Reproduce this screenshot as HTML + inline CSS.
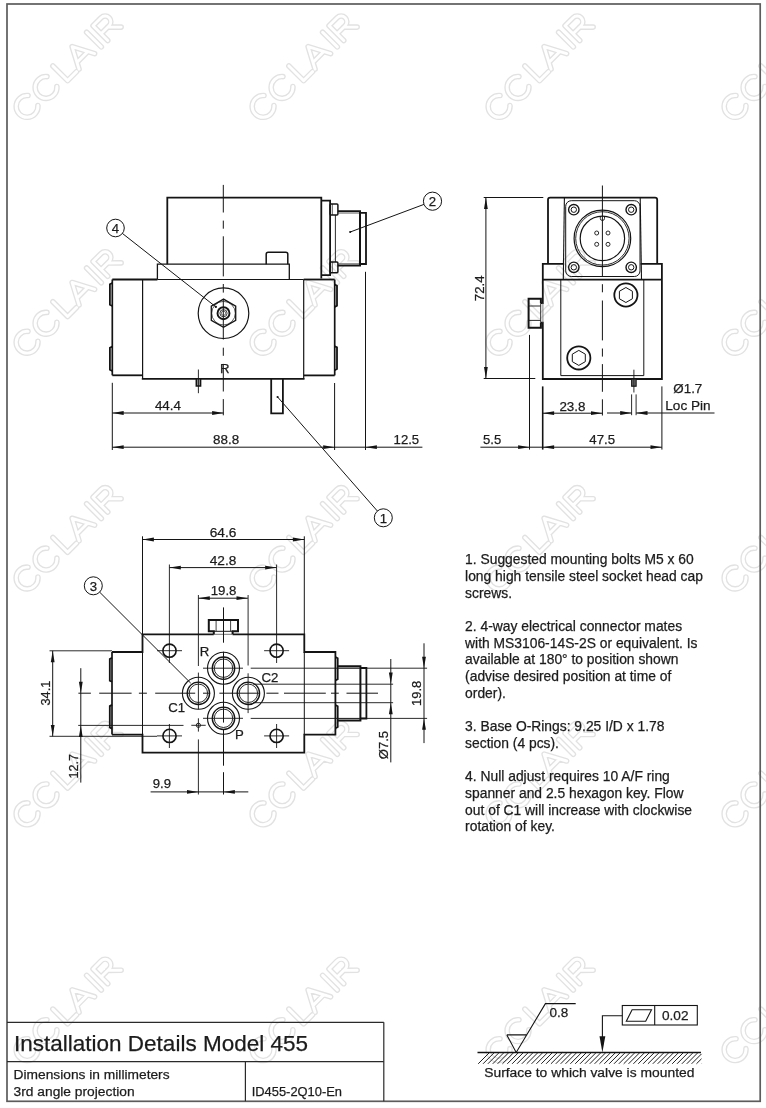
<!DOCTYPE html>
<html><head><meta charset="utf-8"><title>Installation Details Model 455</title>
<style>
html,body{margin:0;padding:0;background:#fff;}
body{width:766px;height:1108px;overflow:hidden;font-family:"Liberation Sans",sans-serif;}
svg{display:block;font-family:"Liberation Sans",sans-serif;filter:grayscale(1);}
</style></head><body>
<svg width="766" height="1108" viewBox="0 0 766 1108">
<rect width="766" height="1108" fill="#ffffff"/>
<g fill="none" stroke-linejoin="round" stroke-linecap="round">
<g stroke="#e2e2e2" stroke-width="5.6"><path transform="translate(66.75 66.75) rotate(-45)" d="M-47.75,-7 A10.9,10.9 0 1 0 -47.75,7 M-20.95,-7 A10.9,10.9 0 1 0 -20.95,7 M-9.2,-10.4 L-9.2,10.4 L3.5,10.4 M7,10.4 L18,-10.4 L29,10.4 M10.6,4.1 L25.4,4.1 M38.5,-10.4 L38.5,10.4 M47.6,10.4 L47.6,-10.4 L59,-10.4 A5.7,5.7 0 0 1 59,1 L47.6,1 M57,1 L66.5,10.4"/><path transform="translate(302.75 66.75) rotate(-45)" d="M-47.75,-7 A10.9,10.9 0 1 0 -47.75,7 M-20.95,-7 A10.9,10.9 0 1 0 -20.95,7 M-9.2,-10.4 L-9.2,10.4 L3.5,10.4 M7,10.4 L18,-10.4 L29,10.4 M10.6,4.1 L25.4,4.1 M38.5,-10.4 L38.5,10.4 M47.6,10.4 L47.6,-10.4 L59,-10.4 A5.7,5.7 0 0 1 59,1 L47.6,1 M57,1 L66.5,10.4"/><path transform="translate(538.75 66.75) rotate(-45)" d="M-47.75,-7 A10.9,10.9 0 1 0 -47.75,7 M-20.95,-7 A10.9,10.9 0 1 0 -20.95,7 M-9.2,-10.4 L-9.2,10.4 L3.5,10.4 M7,10.4 L18,-10.4 L29,10.4 M10.6,4.1 L25.4,4.1 M38.5,-10.4 L38.5,10.4 M47.6,10.4 L47.6,-10.4 L59,-10.4 A5.7,5.7 0 0 1 59,1 L47.6,1 M57,1 L66.5,10.4"/><path transform="translate(774.75 66.75) rotate(-45)" d="M-47.75,-7 A10.9,10.9 0 1 0 -47.75,7 M-20.95,-7 A10.9,10.9 0 1 0 -20.95,7 M-9.2,-10.4 L-9.2,10.4 L3.5,10.4 M7,10.4 L18,-10.4 L29,10.4 M10.6,4.1 L25.4,4.1 M38.5,-10.4 L38.5,10.4 M47.6,10.4 L47.6,-10.4 L59,-10.4 A5.7,5.7 0 0 1 59,1 L47.6,1 M57,1 L66.5,10.4"/><path transform="translate(66.75 302.55) rotate(-45)" d="M-47.75,-7 A10.9,10.9 0 1 0 -47.75,7 M-20.95,-7 A10.9,10.9 0 1 0 -20.95,7 M-9.2,-10.4 L-9.2,10.4 L3.5,10.4 M7,10.4 L18,-10.4 L29,10.4 M10.6,4.1 L25.4,4.1 M38.5,-10.4 L38.5,10.4 M47.6,10.4 L47.6,-10.4 L59,-10.4 A5.7,5.7 0 0 1 59,1 L47.6,1 M57,1 L66.5,10.4"/><path transform="translate(302.75 302.55) rotate(-45)" d="M-47.75,-7 A10.9,10.9 0 1 0 -47.75,7 M-20.95,-7 A10.9,10.9 0 1 0 -20.95,7 M-9.2,-10.4 L-9.2,10.4 L3.5,10.4 M7,10.4 L18,-10.4 L29,10.4 M10.6,4.1 L25.4,4.1 M38.5,-10.4 L38.5,10.4 M47.6,10.4 L47.6,-10.4 L59,-10.4 A5.7,5.7 0 0 1 59,1 L47.6,1 M57,1 L66.5,10.4"/><path transform="translate(538.75 302.55) rotate(-45)" d="M-47.75,-7 A10.9,10.9 0 1 0 -47.75,7 M-20.95,-7 A10.9,10.9 0 1 0 -20.95,7 M-9.2,-10.4 L-9.2,10.4 L3.5,10.4 M7,10.4 L18,-10.4 L29,10.4 M10.6,4.1 L25.4,4.1 M38.5,-10.4 L38.5,10.4 M47.6,10.4 L47.6,-10.4 L59,-10.4 A5.7,5.7 0 0 1 59,1 L47.6,1 M57,1 L66.5,10.4"/><path transform="translate(774.75 302.55) rotate(-45)" d="M-47.75,-7 A10.9,10.9 0 1 0 -47.75,7 M-20.95,-7 A10.9,10.9 0 1 0 -20.95,7 M-9.2,-10.4 L-9.2,10.4 L3.5,10.4 M7,10.4 L18,-10.4 L29,10.4 M10.6,4.1 L25.4,4.1 M38.5,-10.4 L38.5,10.4 M47.6,10.4 L47.6,-10.4 L59,-10.4 A5.7,5.7 0 0 1 59,1 L47.6,1 M57,1 L66.5,10.4"/><path transform="translate(66.75 538.35) rotate(-45)" d="M-47.75,-7 A10.9,10.9 0 1 0 -47.75,7 M-20.95,-7 A10.9,10.9 0 1 0 -20.95,7 M-9.2,-10.4 L-9.2,10.4 L3.5,10.4 M7,10.4 L18,-10.4 L29,10.4 M10.6,4.1 L25.4,4.1 M38.5,-10.4 L38.5,10.4 M47.6,10.4 L47.6,-10.4 L59,-10.4 A5.7,5.7 0 0 1 59,1 L47.6,1 M57,1 L66.5,10.4"/><path transform="translate(302.75 538.35) rotate(-45)" d="M-47.75,-7 A10.9,10.9 0 1 0 -47.75,7 M-20.95,-7 A10.9,10.9 0 1 0 -20.95,7 M-9.2,-10.4 L-9.2,10.4 L3.5,10.4 M7,10.4 L18,-10.4 L29,10.4 M10.6,4.1 L25.4,4.1 M38.5,-10.4 L38.5,10.4 M47.6,10.4 L47.6,-10.4 L59,-10.4 A5.7,5.7 0 0 1 59,1 L47.6,1 M57,1 L66.5,10.4"/><path transform="translate(538.75 538.35) rotate(-45)" d="M-47.75,-7 A10.9,10.9 0 1 0 -47.75,7 M-20.95,-7 A10.9,10.9 0 1 0 -20.95,7 M-9.2,-10.4 L-9.2,10.4 L3.5,10.4 M7,10.4 L18,-10.4 L29,10.4 M10.6,4.1 L25.4,4.1 M38.5,-10.4 L38.5,10.4 M47.6,10.4 L47.6,-10.4 L59,-10.4 A5.7,5.7 0 0 1 59,1 L47.6,1 M57,1 L66.5,10.4"/><path transform="translate(774.75 538.35) rotate(-45)" d="M-47.75,-7 A10.9,10.9 0 1 0 -47.75,7 M-20.95,-7 A10.9,10.9 0 1 0 -20.95,7 M-9.2,-10.4 L-9.2,10.4 L3.5,10.4 M7,10.4 L18,-10.4 L29,10.4 M10.6,4.1 L25.4,4.1 M38.5,-10.4 L38.5,10.4 M47.6,10.4 L47.6,-10.4 L59,-10.4 A5.7,5.7 0 0 1 59,1 L47.6,1 M57,1 L66.5,10.4"/><path transform="translate(66.75 774.15) rotate(-45)" d="M-47.75,-7 A10.9,10.9 0 1 0 -47.75,7 M-20.95,-7 A10.9,10.9 0 1 0 -20.95,7 M-9.2,-10.4 L-9.2,10.4 L3.5,10.4 M7,10.4 L18,-10.4 L29,10.4 M10.6,4.1 L25.4,4.1 M38.5,-10.4 L38.5,10.4 M47.6,10.4 L47.6,-10.4 L59,-10.4 A5.7,5.7 0 0 1 59,1 L47.6,1 M57,1 L66.5,10.4"/><path transform="translate(302.75 774.15) rotate(-45)" d="M-47.75,-7 A10.9,10.9 0 1 0 -47.75,7 M-20.95,-7 A10.9,10.9 0 1 0 -20.95,7 M-9.2,-10.4 L-9.2,10.4 L3.5,10.4 M7,10.4 L18,-10.4 L29,10.4 M10.6,4.1 L25.4,4.1 M38.5,-10.4 L38.5,10.4 M47.6,10.4 L47.6,-10.4 L59,-10.4 A5.7,5.7 0 0 1 59,1 L47.6,1 M57,1 L66.5,10.4"/><path transform="translate(538.75 774.15) rotate(-45)" d="M-47.75,-7 A10.9,10.9 0 1 0 -47.75,7 M-20.95,-7 A10.9,10.9 0 1 0 -20.95,7 M-9.2,-10.4 L-9.2,10.4 L3.5,10.4 M7,10.4 L18,-10.4 L29,10.4 M10.6,4.1 L25.4,4.1 M38.5,-10.4 L38.5,10.4 M47.6,10.4 L47.6,-10.4 L59,-10.4 A5.7,5.7 0 0 1 59,1 L47.6,1 M57,1 L66.5,10.4"/><path transform="translate(774.75 774.15) rotate(-45)" d="M-47.75,-7 A10.9,10.9 0 1 0 -47.75,7 M-20.95,-7 A10.9,10.9 0 1 0 -20.95,7 M-9.2,-10.4 L-9.2,10.4 L3.5,10.4 M7,10.4 L18,-10.4 L29,10.4 M10.6,4.1 L25.4,4.1 M38.5,-10.4 L38.5,10.4 M47.6,10.4 L47.6,-10.4 L59,-10.4 A5.7,5.7 0 0 1 59,1 L47.6,1 M57,1 L66.5,10.4"/><path transform="translate(66.75 1009.95) rotate(-45)" d="M-47.75,-7 A10.9,10.9 0 1 0 -47.75,7 M-20.95,-7 A10.9,10.9 0 1 0 -20.95,7 M-9.2,-10.4 L-9.2,10.4 L3.5,10.4 M7,10.4 L18,-10.4 L29,10.4 M10.6,4.1 L25.4,4.1 M38.5,-10.4 L38.5,10.4 M47.6,10.4 L47.6,-10.4 L59,-10.4 A5.7,5.7 0 0 1 59,1 L47.6,1 M57,1 L66.5,10.4"/><path transform="translate(302.75 1009.95) rotate(-45)" d="M-47.75,-7 A10.9,10.9 0 1 0 -47.75,7 M-20.95,-7 A10.9,10.9 0 1 0 -20.95,7 M-9.2,-10.4 L-9.2,10.4 L3.5,10.4 M7,10.4 L18,-10.4 L29,10.4 M10.6,4.1 L25.4,4.1 M38.5,-10.4 L38.5,10.4 M47.6,10.4 L47.6,-10.4 L59,-10.4 A5.7,5.7 0 0 1 59,1 L47.6,1 M57,1 L66.5,10.4"/><path transform="translate(538.75 1009.95) rotate(-45)" d="M-47.75,-7 A10.9,10.9 0 1 0 -47.75,7 M-20.95,-7 A10.9,10.9 0 1 0 -20.95,7 M-9.2,-10.4 L-9.2,10.4 L3.5,10.4 M7,10.4 L18,-10.4 L29,10.4 M10.6,4.1 L25.4,4.1 M38.5,-10.4 L38.5,10.4 M47.6,10.4 L47.6,-10.4 L59,-10.4 A5.7,5.7 0 0 1 59,1 L47.6,1 M57,1 L66.5,10.4"/><path transform="translate(774.75 1009.95) rotate(-45)" d="M-47.75,-7 A10.9,10.9 0 1 0 -47.75,7 M-20.95,-7 A10.9,10.9 0 1 0 -20.95,7 M-9.2,-10.4 L-9.2,10.4 L3.5,10.4 M7,10.4 L18,-10.4 L29,10.4 M10.6,4.1 L25.4,4.1 M38.5,-10.4 L38.5,10.4 M47.6,10.4 L47.6,-10.4 L59,-10.4 A5.7,5.7 0 0 1 59,1 L47.6,1 M57,1 L66.5,10.4"/></g>
<g stroke="#ffffff" stroke-width="2.9"><path transform="translate(66.75 66.75) rotate(-45)" d="M-47.75,-7 A10.9,10.9 0 1 0 -47.75,7 M-20.95,-7 A10.9,10.9 0 1 0 -20.95,7 M-9.2,-10.4 L-9.2,10.4 L3.5,10.4 M7,10.4 L18,-10.4 L29,10.4 M10.6,4.1 L25.4,4.1 M38.5,-10.4 L38.5,10.4 M47.6,10.4 L47.6,-10.4 L59,-10.4 A5.7,5.7 0 0 1 59,1 L47.6,1 M57,1 L66.5,10.4"/><path transform="translate(302.75 66.75) rotate(-45)" d="M-47.75,-7 A10.9,10.9 0 1 0 -47.75,7 M-20.95,-7 A10.9,10.9 0 1 0 -20.95,7 M-9.2,-10.4 L-9.2,10.4 L3.5,10.4 M7,10.4 L18,-10.4 L29,10.4 M10.6,4.1 L25.4,4.1 M38.5,-10.4 L38.5,10.4 M47.6,10.4 L47.6,-10.4 L59,-10.4 A5.7,5.7 0 0 1 59,1 L47.6,1 M57,1 L66.5,10.4"/><path transform="translate(538.75 66.75) rotate(-45)" d="M-47.75,-7 A10.9,10.9 0 1 0 -47.75,7 M-20.95,-7 A10.9,10.9 0 1 0 -20.95,7 M-9.2,-10.4 L-9.2,10.4 L3.5,10.4 M7,10.4 L18,-10.4 L29,10.4 M10.6,4.1 L25.4,4.1 M38.5,-10.4 L38.5,10.4 M47.6,10.4 L47.6,-10.4 L59,-10.4 A5.7,5.7 0 0 1 59,1 L47.6,1 M57,1 L66.5,10.4"/><path transform="translate(774.75 66.75) rotate(-45)" d="M-47.75,-7 A10.9,10.9 0 1 0 -47.75,7 M-20.95,-7 A10.9,10.9 0 1 0 -20.95,7 M-9.2,-10.4 L-9.2,10.4 L3.5,10.4 M7,10.4 L18,-10.4 L29,10.4 M10.6,4.1 L25.4,4.1 M38.5,-10.4 L38.5,10.4 M47.6,10.4 L47.6,-10.4 L59,-10.4 A5.7,5.7 0 0 1 59,1 L47.6,1 M57,1 L66.5,10.4"/><path transform="translate(66.75 302.55) rotate(-45)" d="M-47.75,-7 A10.9,10.9 0 1 0 -47.75,7 M-20.95,-7 A10.9,10.9 0 1 0 -20.95,7 M-9.2,-10.4 L-9.2,10.4 L3.5,10.4 M7,10.4 L18,-10.4 L29,10.4 M10.6,4.1 L25.4,4.1 M38.5,-10.4 L38.5,10.4 M47.6,10.4 L47.6,-10.4 L59,-10.4 A5.7,5.7 0 0 1 59,1 L47.6,1 M57,1 L66.5,10.4"/><path transform="translate(302.75 302.55) rotate(-45)" d="M-47.75,-7 A10.9,10.9 0 1 0 -47.75,7 M-20.95,-7 A10.9,10.9 0 1 0 -20.95,7 M-9.2,-10.4 L-9.2,10.4 L3.5,10.4 M7,10.4 L18,-10.4 L29,10.4 M10.6,4.1 L25.4,4.1 M38.5,-10.4 L38.5,10.4 M47.6,10.4 L47.6,-10.4 L59,-10.4 A5.7,5.7 0 0 1 59,1 L47.6,1 M57,1 L66.5,10.4"/><path transform="translate(538.75 302.55) rotate(-45)" d="M-47.75,-7 A10.9,10.9 0 1 0 -47.75,7 M-20.95,-7 A10.9,10.9 0 1 0 -20.95,7 M-9.2,-10.4 L-9.2,10.4 L3.5,10.4 M7,10.4 L18,-10.4 L29,10.4 M10.6,4.1 L25.4,4.1 M38.5,-10.4 L38.5,10.4 M47.6,10.4 L47.6,-10.4 L59,-10.4 A5.7,5.7 0 0 1 59,1 L47.6,1 M57,1 L66.5,10.4"/><path transform="translate(774.75 302.55) rotate(-45)" d="M-47.75,-7 A10.9,10.9 0 1 0 -47.75,7 M-20.95,-7 A10.9,10.9 0 1 0 -20.95,7 M-9.2,-10.4 L-9.2,10.4 L3.5,10.4 M7,10.4 L18,-10.4 L29,10.4 M10.6,4.1 L25.4,4.1 M38.5,-10.4 L38.5,10.4 M47.6,10.4 L47.6,-10.4 L59,-10.4 A5.7,5.7 0 0 1 59,1 L47.6,1 M57,1 L66.5,10.4"/><path transform="translate(66.75 538.35) rotate(-45)" d="M-47.75,-7 A10.9,10.9 0 1 0 -47.75,7 M-20.95,-7 A10.9,10.9 0 1 0 -20.95,7 M-9.2,-10.4 L-9.2,10.4 L3.5,10.4 M7,10.4 L18,-10.4 L29,10.4 M10.6,4.1 L25.4,4.1 M38.5,-10.4 L38.5,10.4 M47.6,10.4 L47.6,-10.4 L59,-10.4 A5.7,5.7 0 0 1 59,1 L47.6,1 M57,1 L66.5,10.4"/><path transform="translate(302.75 538.35) rotate(-45)" d="M-47.75,-7 A10.9,10.9 0 1 0 -47.75,7 M-20.95,-7 A10.9,10.9 0 1 0 -20.95,7 M-9.2,-10.4 L-9.2,10.4 L3.5,10.4 M7,10.4 L18,-10.4 L29,10.4 M10.6,4.1 L25.4,4.1 M38.5,-10.4 L38.5,10.4 M47.6,10.4 L47.6,-10.4 L59,-10.4 A5.7,5.7 0 0 1 59,1 L47.6,1 M57,1 L66.5,10.4"/><path transform="translate(538.75 538.35) rotate(-45)" d="M-47.75,-7 A10.9,10.9 0 1 0 -47.75,7 M-20.95,-7 A10.9,10.9 0 1 0 -20.95,7 M-9.2,-10.4 L-9.2,10.4 L3.5,10.4 M7,10.4 L18,-10.4 L29,10.4 M10.6,4.1 L25.4,4.1 M38.5,-10.4 L38.5,10.4 M47.6,10.4 L47.6,-10.4 L59,-10.4 A5.7,5.7 0 0 1 59,1 L47.6,1 M57,1 L66.5,10.4"/><path transform="translate(774.75 538.35) rotate(-45)" d="M-47.75,-7 A10.9,10.9 0 1 0 -47.75,7 M-20.95,-7 A10.9,10.9 0 1 0 -20.95,7 M-9.2,-10.4 L-9.2,10.4 L3.5,10.4 M7,10.4 L18,-10.4 L29,10.4 M10.6,4.1 L25.4,4.1 M38.5,-10.4 L38.5,10.4 M47.6,10.4 L47.6,-10.4 L59,-10.4 A5.7,5.7 0 0 1 59,1 L47.6,1 M57,1 L66.5,10.4"/><path transform="translate(66.75 774.15) rotate(-45)" d="M-47.75,-7 A10.9,10.9 0 1 0 -47.75,7 M-20.95,-7 A10.9,10.9 0 1 0 -20.95,7 M-9.2,-10.4 L-9.2,10.4 L3.5,10.4 M7,10.4 L18,-10.4 L29,10.4 M10.6,4.1 L25.4,4.1 M38.5,-10.4 L38.5,10.4 M47.6,10.4 L47.6,-10.4 L59,-10.4 A5.7,5.7 0 0 1 59,1 L47.6,1 M57,1 L66.5,10.4"/><path transform="translate(302.75 774.15) rotate(-45)" d="M-47.75,-7 A10.9,10.9 0 1 0 -47.75,7 M-20.95,-7 A10.9,10.9 0 1 0 -20.95,7 M-9.2,-10.4 L-9.2,10.4 L3.5,10.4 M7,10.4 L18,-10.4 L29,10.4 M10.6,4.1 L25.4,4.1 M38.5,-10.4 L38.5,10.4 M47.6,10.4 L47.6,-10.4 L59,-10.4 A5.7,5.7 0 0 1 59,1 L47.6,1 M57,1 L66.5,10.4"/><path transform="translate(538.75 774.15) rotate(-45)" d="M-47.75,-7 A10.9,10.9 0 1 0 -47.75,7 M-20.95,-7 A10.9,10.9 0 1 0 -20.95,7 M-9.2,-10.4 L-9.2,10.4 L3.5,10.4 M7,10.4 L18,-10.4 L29,10.4 M10.6,4.1 L25.4,4.1 M38.5,-10.4 L38.5,10.4 M47.6,10.4 L47.6,-10.4 L59,-10.4 A5.7,5.7 0 0 1 59,1 L47.6,1 M57,1 L66.5,10.4"/><path transform="translate(774.75 774.15) rotate(-45)" d="M-47.75,-7 A10.9,10.9 0 1 0 -47.75,7 M-20.95,-7 A10.9,10.9 0 1 0 -20.95,7 M-9.2,-10.4 L-9.2,10.4 L3.5,10.4 M7,10.4 L18,-10.4 L29,10.4 M10.6,4.1 L25.4,4.1 M38.5,-10.4 L38.5,10.4 M47.6,10.4 L47.6,-10.4 L59,-10.4 A5.7,5.7 0 0 1 59,1 L47.6,1 M57,1 L66.5,10.4"/><path transform="translate(66.75 1009.95) rotate(-45)" d="M-47.75,-7 A10.9,10.9 0 1 0 -47.75,7 M-20.95,-7 A10.9,10.9 0 1 0 -20.95,7 M-9.2,-10.4 L-9.2,10.4 L3.5,10.4 M7,10.4 L18,-10.4 L29,10.4 M10.6,4.1 L25.4,4.1 M38.5,-10.4 L38.5,10.4 M47.6,10.4 L47.6,-10.4 L59,-10.4 A5.7,5.7 0 0 1 59,1 L47.6,1 M57,1 L66.5,10.4"/><path transform="translate(302.75 1009.95) rotate(-45)" d="M-47.75,-7 A10.9,10.9 0 1 0 -47.75,7 M-20.95,-7 A10.9,10.9 0 1 0 -20.95,7 M-9.2,-10.4 L-9.2,10.4 L3.5,10.4 M7,10.4 L18,-10.4 L29,10.4 M10.6,4.1 L25.4,4.1 M38.5,-10.4 L38.5,10.4 M47.6,10.4 L47.6,-10.4 L59,-10.4 A5.7,5.7 0 0 1 59,1 L47.6,1 M57,1 L66.5,10.4"/><path transform="translate(538.75 1009.95) rotate(-45)" d="M-47.75,-7 A10.9,10.9 0 1 0 -47.75,7 M-20.95,-7 A10.9,10.9 0 1 0 -20.95,7 M-9.2,-10.4 L-9.2,10.4 L3.5,10.4 M7,10.4 L18,-10.4 L29,10.4 M10.6,4.1 L25.4,4.1 M38.5,-10.4 L38.5,10.4 M47.6,10.4 L47.6,-10.4 L59,-10.4 A5.7,5.7 0 0 1 59,1 L47.6,1 M57,1 L66.5,10.4"/><path transform="translate(774.75 1009.95) rotate(-45)" d="M-47.75,-7 A10.9,10.9 0 1 0 -47.75,7 M-20.95,-7 A10.9,10.9 0 1 0 -20.95,7 M-9.2,-10.4 L-9.2,10.4 L3.5,10.4 M7,10.4 L18,-10.4 L29,10.4 M10.6,4.1 L25.4,4.1 M38.5,-10.4 L38.5,10.4 M47.6,10.4 L47.6,-10.4 L59,-10.4 A5.7,5.7 0 0 1 59,1 L47.6,1 M57,1 L66.5,10.4"/></g>
</g>
<rect x="7.00" y="4.00" width="753.20" height="1097.30" rx="0" fill="none" stroke="#5c5c5c" stroke-width="1.7"/>
<line x1="7.00" y1="1022.30" x2="383.80" y2="1022.30" stroke="#2a2a2a" stroke-width="1.2" />
<line x1="383.80" y1="1022.30" x2="383.80" y2="1101.30" stroke="#2a2a2a" stroke-width="1.2" />
<line x1="7.00" y1="1061.70" x2="383.80" y2="1061.70" stroke="#2a2a2a" stroke-width="1.2" />
<line x1="245.40" y1="1061.70" x2="245.40" y2="1101.30" stroke="#2a2a2a" stroke-width="1.2" />
<text x="14.00" y="1050.50" font-size="22.6" text-anchor="start" fill="#1c1c1c" stroke="#1c1c1c" stroke-width="0.25" textLength="294" lengthAdjust="spacingAndGlyphs">Installation Details Model 455</text>
<text x="13.60" y="1079.20" font-size="13.7" text-anchor="start" fill="#1c1c1c" stroke="#1c1c1c" stroke-width="0.25" textLength="156" lengthAdjust="spacingAndGlyphs">Dimensions in millimeters</text>
<text x="13.60" y="1095.60" font-size="13.7" text-anchor="start" fill="#1c1c1c" stroke="#1c1c1c" stroke-width="0.25" textLength="121" lengthAdjust="spacingAndGlyphs">3rd angle projection</text>
<text x="251.70" y="1095.60" font-size="13.0" text-anchor="start" fill="#1c1c1c" stroke="#1c1c1c" stroke-width="0.25" textLength="90.3" lengthAdjust="spacingAndGlyphs">ID455-2Q10-En</text>
<path d="M167.3,264.2 L167.3,197.6 L321.3,197.6 L321.3,278.6" fill="none" stroke="#141414" stroke-width="1.8" />
<path d="M321.3,200.7 L330.1,200.7 L330.1,275.2 L321.3,275.2" fill="none" stroke="#141414" stroke-width="1.8" />
<rect x="330.10" y="204.00" width="7.80" height="11.00" rx="1" fill="none" stroke="#141414" stroke-width="1.5"/>
<rect x="330.10" y="262.00" width="7.80" height="10.70" rx="1" fill="none" stroke="#141414" stroke-width="1.5"/>
<line x1="332.30" y1="204.00" x2="332.30" y2="215.00" stroke="#141414" stroke-width="0.7" />
<line x1="332.30" y1="262.00" x2="332.30" y2="272.70" stroke="#141414" stroke-width="0.7" />
<line x1="335.40" y1="215.00" x2="335.40" y2="262.00" stroke="#141414" stroke-width="0.9" />
<path d="M337.9,211.2 L360,211.2 L360,265.6 L337.9,265.6" fill="none" stroke="#141414" stroke-width="2.0" />
<line x1="338.00" y1="213.20" x2="359.00" y2="213.20" stroke="#555" stroke-width="0.7" />
<line x1="338.00" y1="263.60" x2="359.00" y2="263.60" stroke="#555" stroke-width="0.7" />
<path d="M360,212.8 L366,212.8 L366,264 L360,264" fill="none" stroke="#141414" stroke-width="1.8" />
<path d="M157.4,279.5 L157.4,264.2 L289.3,264.2 L289.3,279.5" fill="none" stroke="#141414" stroke-width="1.3" />
<path d="M266.2,264.2 L266.2,254.3 Q266.2,252.3 268.2,252.3 L285.8,252.3 Q287.8,252.3 287.8,254.3 L287.8,264.2" fill="none" stroke="#141414" stroke-width="1.5" />
<line x1="112.30" y1="279.50" x2="157.40" y2="279.50" stroke="#141414" stroke-width="1.8" />
<line x1="157.40" y1="279.50" x2="303.70" y2="279.50" stroke="#141414" stroke-width="1.1" />
<line x1="303.70" y1="279.50" x2="334.70" y2="279.50" stroke="#141414" stroke-width="1.8" />
<line x1="112.30" y1="279.50" x2="112.30" y2="375.30" stroke="#141414" stroke-width="1.7" />
<path d="M112.3,283 L109.9,284.2 L109.9,304.8 L112.3,306" fill="none" stroke="#141414" stroke-width="1.8" />
<path d="M112.3,346.6 L109.9,347.8 L109.9,369.8 L112.3,371" fill="none" stroke="#141414" stroke-width="1.8" />
<line x1="112.30" y1="375.30" x2="142.60" y2="375.30" stroke="#141414" stroke-width="1.8" />
<line x1="142.60" y1="279.50" x2="142.60" y2="378.80" stroke="#141414" stroke-width="1.2" />
<line x1="141.80" y1="378.80" x2="304.50" y2="378.80" stroke="#141414" stroke-width="1.8" />
<line x1="303.70" y1="279.50" x2="303.70" y2="378.80" stroke="#141414" stroke-width="1.2" />
<line x1="303.70" y1="375.40" x2="334.70" y2="375.40" stroke="#141414" stroke-width="1.8" />
<line x1="334.70" y1="279.50" x2="334.70" y2="375.40" stroke="#141414" stroke-width="1.7" />
<path d="M334.7,284.5 L337,285.7 L337,305.7 L334.7,306.9" fill="none" stroke="#141414" stroke-width="1.8" />
<path d="M334.7,346.2 L337,347.4 L337,369 L334.7,370.2" fill="none" stroke="#141414" stroke-width="1.8" />
<circle cx="223.50" cy="313.20" r="25.30" fill="none" stroke="#141414" stroke-width="1.2"/>
<polygon points="223.50,299.10 211.29,306.15 211.29,320.25 223.50,327.30 235.71,320.25 235.71,306.15" fill="none" stroke="#141414" stroke-width="1.3"/>
<circle cx="223.50" cy="313.20" r="11.80" fill="none" stroke="#141414" stroke-width="0.7"/>
<circle cx="223.50" cy="313.20" r="6.00" fill="none" stroke="#141414" stroke-width="1.9"/>
<circle cx="223.50" cy="313.20" r="3.60" fill="none" stroke="#141414" stroke-width="0.8"/>
<circle cx="223.50" cy="313.20" r="2.20" fill="none" stroke="#141414" stroke-width="0.6"/>
<line x1="223.30" y1="184.90" x2="223.30" y2="212.50" stroke="#141414" stroke-width="1.0" />
<line x1="223.30" y1="220.60" x2="223.30" y2="228.70" stroke="#141414" stroke-width="1.0" />
<line x1="223.30" y1="236.30" x2="223.30" y2="276.40" stroke="#141414" stroke-width="1.0" />
<line x1="223.30" y1="284.00" x2="223.30" y2="292.60" stroke="#141414" stroke-width="1.0" />
<line x1="223.30" y1="299.00" x2="223.30" y2="339.50" stroke="#141414" stroke-width="1.0" />
<line x1="223.30" y1="347.70" x2="223.30" y2="355.80" stroke="#141414" stroke-width="1.0" />
<line x1="223.30" y1="363.90" x2="223.30" y2="391.50" stroke="#141414" stroke-width="1.0" />
<line x1="223.30" y1="399.10" x2="223.30" y2="415.30" stroke="#141414" stroke-width="1.0" />
<text x="219.90" y="372.80" font-size="13.2" text-anchor="start" fill="#1c1c1c" stroke="#1c1c1c" stroke-width="0.25">R</text>
<rect x="196.30" y="378.80" width="4.30" height="7.20" rx="0" fill="#999" stroke="#141414" stroke-width="1.5"/>
<line x1="198.40" y1="369.50" x2="198.40" y2="393.20" stroke="#141414" stroke-width="0.9" />
<path d="M271.2,378.8 L271.2,413.4 L282.9,413.4 L282.9,378.8" fill="none" stroke="#141414" stroke-width="1.8" />
<line x1="112.30" y1="382.80" x2="112.30" y2="450.00" stroke="#141414" stroke-width="1.0" />
<line x1="334.60" y1="383.00" x2="334.60" y2="450.00" stroke="#141414" stroke-width="1.0" />
<line x1="365.50" y1="271.80" x2="365.50" y2="450.00" stroke="#141414" stroke-width="1.0" />
<line x1="112.30" y1="413.00" x2="223.50" y2="413.00" stroke="#141414" stroke-width="1.0" />
<polygon points="112.30,413.00 123.70,411.10 123.70,414.90" fill="#141414"/>
<polygon points="223.50,413.00 212.10,411.10 212.10,414.90" fill="#141414"/>
<line x1="112.30" y1="447.20" x2="422.40" y2="447.20" stroke="#141414" stroke-width="1.0" />
<polygon points="112.30,447.20 123.70,445.30 123.70,449.10" fill="#141414"/>
<polygon points="334.60,447.20 323.20,445.30 323.20,449.10" fill="#141414"/>
<polygon points="365.50,447.20 376.90,445.30 376.90,449.10" fill="#141414"/>
<text x="154.90" y="410.20" font-size="13.5" text-anchor="start" fill="#1c1c1c" stroke="#1c1c1c" stroke-width="0.25" textLength="26.1" lengthAdjust="spacingAndGlyphs">44.4</text>
<text x="213.00" y="444.30" font-size="13.5" text-anchor="start" fill="#1c1c1c" stroke="#1c1c1c" stroke-width="0.25" textLength="26.1" lengthAdjust="spacingAndGlyphs">88.8</text>
<text x="393.60" y="443.90" font-size="13.5" text-anchor="start" fill="#1c1c1c" stroke="#1c1c1c" stroke-width="0.25" textLength="25.6" lengthAdjust="spacingAndGlyphs">12.5</text>
<line x1="122.42" y1="233.44" x2="215.90" y2="306.90" stroke="#141414" stroke-width="1.0" />
<circle cx="115.50" cy="228.00" r="8.80" fill="none" stroke="#141414" stroke-width="1.0"/>
<circle cx="215.90" cy="306.90" r="1.1" fill="#141414"/>
<text x="115.50" y="232.70" font-size="13.2" text-anchor="middle" fill="#1c1c1c" stroke="#1c1c1c" stroke-width="0.25">4</text>
<line x1="423.98" y1="204.39" x2="350.20" y2="232.00" stroke="#141414" stroke-width="1.0" />
<circle cx="432.50" cy="201.20" r="9.10" fill="none" stroke="#141414" stroke-width="1.0"/>
<circle cx="350.20" cy="232.00" r="1.1" fill="#141414"/>
<text x="432.50" y="205.90" font-size="13.2" text-anchor="middle" fill="#1c1c1c" stroke="#1c1c1c" stroke-width="0.25">2</text>
<line x1="377.37" y1="511.03" x2="277.60" y2="397.00" stroke="#141414" stroke-width="1.0" />
<circle cx="383.30" cy="517.80" r="9.00" fill="none" stroke="#141414" stroke-width="1.0"/>
<circle cx="277.60" cy="397.00" r="1.1" fill="#141414"/>
<text x="383.30" y="522.50" font-size="13.2" text-anchor="middle" fill="#1c1c1c" stroke="#1c1c1c" stroke-width="0.25">1</text>
<path d="M548,263.9 L548,199.8 Q548,197.6 550.2,197.6 L655,197.6 Q657.2,197.6 657.2,199.8 L657.2,263.9" fill="none" stroke="#141414" stroke-width="1.8" />
<path d="M564,263.9 L542.8,263.9 L542.8,303.2 L540.9,303.2 M540.9,322.6 L542.8,322.6 L542.8,379 L661.9,379 L661.9,263.9 L640.6,263.9" fill="none" stroke="#141414" stroke-width="1.8" />
<line x1="542.90" y1="303.20" x2="542.90" y2="322.60" stroke="#666" stroke-width="0.8" />
<line x1="542.80" y1="279.60" x2="661.90" y2="279.60" stroke="#141414" stroke-width="1.8" />
<path d="M560.8,279.6 L560.8,375.6 L643.8,375.6 L643.8,279.6" fill="none" stroke="#141414" stroke-width="1.0" />
<line x1="564.40" y1="197.60" x2="563.30" y2="279.60" stroke="#141414" stroke-width="1.1" />
<line x1="640.20" y1="197.60" x2="641.50" y2="279.60" stroke="#141414" stroke-width="1.1" />
<rect x="565.70" y="200.70" width="74.30" height="75.80" rx="5.6" fill="none" stroke="#141414" stroke-width="1.0"/>
<circle cx="573.80" cy="209.70" r="5.20" fill="none" stroke="#141414" stroke-width="1.4"/>
<circle cx="573.80" cy="209.70" r="2.70" fill="none" stroke="#141414" stroke-width="1.0"/>
<circle cx="631.20" cy="209.70" r="5.20" fill="none" stroke="#141414" stroke-width="1.4"/>
<circle cx="631.20" cy="209.70" r="2.70" fill="none" stroke="#141414" stroke-width="1.0"/>
<circle cx="573.80" cy="267.30" r="5.20" fill="none" stroke="#141414" stroke-width="1.4"/>
<circle cx="573.80" cy="267.30" r="2.70" fill="none" stroke="#141414" stroke-width="1.0"/>
<circle cx="631.20" cy="267.30" r="5.20" fill="none" stroke="#141414" stroke-width="1.4"/>
<circle cx="631.20" cy="267.30" r="2.70" fill="none" stroke="#141414" stroke-width="1.0"/>
<circle cx="602.40" cy="238.40" r="28.30" fill="none" stroke="#141414" stroke-width="1.2"/>
<circle cx="602.40" cy="238.40" r="26.70" fill="none" stroke="#141414" stroke-width="0.9"/>
<circle cx="602.40" cy="238.40" r="22.20" fill="none" stroke="#141414" stroke-width="1.2"/>
<circle cx="596.70" cy="233.00" r="2.00" fill="none" stroke="#141414" stroke-width="0.9"/>
<circle cx="608.00" cy="233.00" r="2.00" fill="none" stroke="#141414" stroke-width="0.9"/>
<circle cx="596.70" cy="244.30" r="2.00" fill="none" stroke="#141414" stroke-width="0.9"/>
<circle cx="608.00" cy="244.30" r="2.00" fill="none" stroke="#141414" stroke-width="0.9"/>
<path d="M600.3,216.3 L600.3,218.4 A2.1,2.1 0 0 0 604.5,218.4 L604.5,216.3" fill="none" stroke="#141414" stroke-width="0.9" />
<line x1="602.40" y1="185.50" x2="602.40" y2="276.50" stroke="#141414" stroke-width="1.0" />
<line x1="602.40" y1="284.20" x2="602.40" y2="292.30" stroke="#141414" stroke-width="1.0" />
<line x1="602.40" y1="300.50" x2="602.40" y2="340.40" stroke="#141414" stroke-width="1.0" />
<line x1="602.40" y1="348.50" x2="602.40" y2="356.60" stroke="#141414" stroke-width="1.0" />
<line x1="602.40" y1="364.10" x2="602.40" y2="391.80" stroke="#141414" stroke-width="1.0" />
<line x1="602.40" y1="399.30" x2="602.40" y2="415.50" stroke="#141414" stroke-width="1.0" />
<circle cx="625.90" cy="295.00" r="11.60" fill="none" stroke="#141414" stroke-width="1.8"/>
<polygon points="625.90,287.50 619.40,291.25 619.40,298.75 625.90,302.50 632.40,298.75 632.40,291.25" fill="none" stroke="#141414" stroke-width="1.0"/>
<circle cx="578.80" cy="357.90" r="11.60" fill="none" stroke="#141414" stroke-width="1.8"/>
<polygon points="578.80,350.40 572.30,354.15 572.30,361.65 578.80,365.40 585.30,361.65 585.30,354.15" fill="none" stroke="#141414" stroke-width="1.0"/>
<path d="M540.9,303.2 L540.9,298.7 L528.6,298.7 L528.6,327.7 L540.9,327.7 L540.9,322.6" fill="none" stroke="#141414" stroke-width="2.0" />
<line x1="540.70" y1="303.20" x2="540.70" y2="322.60" stroke="#141414" stroke-width="0.9" />
<line x1="529.00" y1="306.00" x2="540.50" y2="306.00" stroke="#141414" stroke-width="0.9" />
<line x1="529.00" y1="320.40" x2="540.50" y2="320.40" stroke="#141414" stroke-width="0.9" />
<rect x="631.70" y="379.00" width="4.40" height="7.20" rx="0" fill="#777" stroke="#141414" stroke-width="1.2"/>
<line x1="633.90" y1="369.70" x2="633.90" y2="392.50" stroke="#141414" stroke-width="0.9" />
<line x1="631.60" y1="394.40" x2="631.60" y2="415.20" stroke="#141414" stroke-width="0.9" />
<line x1="636.10" y1="394.40" x2="636.10" y2="415.20" stroke="#141414" stroke-width="0.9" />
<line x1="483.70" y1="197.50" x2="543.30" y2="197.50" stroke="#141414" stroke-width="1.0" />
<line x1="483.70" y1="378.50" x2="535.30" y2="378.50" stroke="#141414" stroke-width="1.0" />
<line x1="485.90" y1="197.50" x2="485.90" y2="378.50" stroke="#141414" stroke-width="1.0" />
<polygon points="485.90,197.50 484.00,208.90 487.80,208.90" fill="#141414"/>
<polygon points="485.90,378.50 484.00,367.10 487.80,367.10" fill="#141414"/>
<text x="484.20" y="301.20" font-size="13.5" text-anchor="start" fill="#1c1c1c" stroke="#1c1c1c" stroke-width="0.25" textLength="25.8" lengthAdjust="spacingAndGlyphs" transform="rotate(-90 484.20 301.20)">72.4</text>
<line x1="529.50" y1="334.90" x2="529.50" y2="449.60" stroke="#141414" stroke-width="1.0" />
<line x1="542.70" y1="386.40" x2="542.70" y2="449.60" stroke="#141414" stroke-width="1.6" />
<line x1="661.90" y1="386.40" x2="661.90" y2="449.60" stroke="#141414" stroke-width="1.0" />
<line x1="542.70" y1="413.20" x2="602.40" y2="413.20" stroke="#141414" stroke-width="1.0" />
<polygon points="542.70,413.20 554.10,411.30 554.10,415.10" fill="#141414"/>
<polygon points="602.40,413.20 591.00,411.30 591.00,415.10" fill="#141414"/>
<line x1="607.00" y1="413.00" x2="631.60" y2="413.00" stroke="#141414" stroke-width="1.0" />
<polygon points="631.60,413.00 620.20,411.10 620.20,414.90" fill="#141414"/>
<line x1="636.10" y1="413.00" x2="714.50" y2="413.00" stroke="#141414" stroke-width="1.0" />
<polygon points="636.10,413.00 647.50,411.10 647.50,414.90" fill="#141414"/>
<line x1="480.40" y1="447.20" x2="661.90" y2="447.20" stroke="#141414" stroke-width="1.0" />
<polygon points="529.50,447.20 518.10,445.30 518.10,449.10" fill="#141414"/>
<polygon points="542.70,447.20 554.10,445.30 554.10,449.10" fill="#141414"/>
<polygon points="661.90,447.20 650.50,445.30 650.50,449.10" fill="#141414"/>
<text x="559.40" y="410.60" font-size="13.5" text-anchor="start" fill="#1c1c1c" stroke="#1c1c1c" stroke-width="0.25" textLength="26.1" lengthAdjust="spacingAndGlyphs">23.8</text>
<text x="483.10" y="444.30" font-size="13.5" text-anchor="start" fill="#1c1c1c" stroke="#1c1c1c" stroke-width="0.25" textLength="18.2" lengthAdjust="spacingAndGlyphs">5.5</text>
<text x="589.30" y="444.40" font-size="13.5" text-anchor="start" fill="#1c1c1c" stroke="#1c1c1c" stroke-width="0.25" textLength="25.8" lengthAdjust="spacingAndGlyphs">47.5</text>
<text x="673.30" y="393.40" font-size="13.5" text-anchor="start" fill="#1c1c1c" stroke="#1c1c1c" stroke-width="0.25" textLength="29" lengthAdjust="spacingAndGlyphs">Ø1.7</text>
<text x="665.30" y="410.40" font-size="13.5" text-anchor="start" fill="#1c1c1c" stroke="#1c1c1c" stroke-width="0.25" textLength="45.3" lengthAdjust="spacingAndGlyphs">Loc Pin</text>
<path d="M112,652 L142.5,652 L142.5,634.3 L213.8,634.3 M232.6,634.3 L304.3,634.3 L304.3,652 L335.4,652 L335.4,734.6 L304.3,734.6 L304.3,752.6 L142.5,752.6 L142.5,734.6 L112,734.6" fill="none" stroke="#141414" stroke-width="1.8" />
<line x1="213.80" y1="634.30" x2="232.60" y2="634.30" stroke="#666" stroke-width="0.9" />
<line x1="112.00" y1="652.00" x2="112.00" y2="734.60" stroke="#141414" stroke-width="1.7" />
<path d="M112,657.8 L109.8,659 L109.8,680.6 L112,681.8" fill="none" stroke="#141414" stroke-width="1.8" />
<path d="M112,704.9 L109.8,706.1 L109.8,727.4 L112,728.6" fill="none" stroke="#141414" stroke-width="1.8" />
<line x1="142.50" y1="652.00" x2="142.50" y2="734.60" stroke="#141414" stroke-width="1.0" />
<line x1="304.30" y1="652.00" x2="304.30" y2="734.60" stroke="#141414" stroke-width="1.0" />
<path d="M335.4,657 L337.7,658.2 L337.7,679.2 L335.4,680.4" fill="none" stroke="#141414" stroke-width="1.8" />
<path d="M335.4,705 L337.7,706.2 L337.7,727 L335.4,728.2" fill="none" stroke="#141414" stroke-width="1.8" />
<path d="M337.7,666.2 L360.4,666.2 L360.4,720.5 L337.7,720.5" fill="none" stroke="#141414" stroke-width="2.0" />
<line x1="338.00" y1="668.20" x2="359.40" y2="668.20" stroke="#555" stroke-width="0.7" />
<line x1="338.00" y1="718.50" x2="359.40" y2="718.50" stroke="#555" stroke-width="0.7" />
<path d="M360.4,668 L366.4,668 L366.4,718.5 L360.4,718.5" fill="none" stroke="#141414" stroke-width="1.8" />
<path d="M213.8,634.3 L213.8,631.3 L208.8,631.3 L208.8,620.1 L238,620.1 L238,631.3 L232.6,631.3 L232.6,634.3" fill="none" stroke="#141414" stroke-width="2.0" />
<line x1="216.10" y1="620.50" x2="216.10" y2="631.00" stroke="#141414" stroke-width="0.8" />
<line x1="230.60" y1="620.50" x2="230.60" y2="631.00" stroke="#141414" stroke-width="0.8" />
<line x1="213.80" y1="631.30" x2="232.60" y2="631.30" stroke="#141414" stroke-width="1.0" />
<circle cx="169.50" cy="650.70" r="6.60" fill="none" stroke="#141414" stroke-width="1.6"/>
<line x1="157.00" y1="650.70" x2="182.00" y2="650.70" stroke="#141414" stroke-width="0.9" />
<circle cx="276.60" cy="650.70" r="6.60" fill="none" stroke="#141414" stroke-width="1.6"/>
<line x1="264.10" y1="650.70" x2="289.10" y2="650.70" stroke="#141414" stroke-width="0.9" />
<circle cx="169.50" cy="735.90" r="6.60" fill="none" stroke="#141414" stroke-width="1.6"/>
<line x1="157.00" y1="735.90" x2="182.00" y2="735.90" stroke="#141414" stroke-width="0.9" />
<circle cx="276.60" cy="735.90" r="6.60" fill="none" stroke="#141414" stroke-width="1.6"/>
<line x1="264.10" y1="735.90" x2="289.10" y2="735.90" stroke="#141414" stroke-width="0.9" />
<circle cx="223.50" cy="668.20" r="16.00" fill="none" stroke="#141414" stroke-width="1.1"/>
<circle cx="223.50" cy="668.20" r="11.20" fill="none" stroke="#141414" stroke-width="1.35"/>
<circle cx="223.50" cy="668.20" r="9.20" fill="none" stroke="#141414" stroke-width="0.9"/>
<circle cx="198.40" cy="693.30" r="16.00" fill="none" stroke="#141414" stroke-width="1.1"/>
<circle cx="198.40" cy="693.30" r="11.20" fill="none" stroke="#141414" stroke-width="1.35"/>
<circle cx="198.40" cy="693.30" r="9.20" fill="none" stroke="#141414" stroke-width="0.9"/>
<circle cx="248.40" cy="693.30" r="16.00" fill="none" stroke="#141414" stroke-width="1.1"/>
<circle cx="248.40" cy="693.30" r="11.20" fill="none" stroke="#141414" stroke-width="1.35"/>
<circle cx="248.40" cy="693.30" r="9.20" fill="none" stroke="#141414" stroke-width="0.9"/>
<circle cx="223.50" cy="718.30" r="16.00" fill="none" stroke="#141414" stroke-width="1.1"/>
<circle cx="223.50" cy="718.30" r="11.20" fill="none" stroke="#141414" stroke-width="1.35"/>
<circle cx="223.50" cy="718.30" r="9.20" fill="none" stroke="#141414" stroke-width="0.9"/>
<line x1="203.00" y1="668.20" x2="243.00" y2="668.20" stroke="#141414" stroke-width="0.9" />
<line x1="203.00" y1="718.30" x2="243.00" y2="718.30" stroke="#141414" stroke-width="0.9" />
<circle cx="198.40" cy="725.30" r="2.10" fill="none" stroke="#141414" stroke-width="0.9"/>
<line x1="191.30" y1="725.30" x2="205.70" y2="725.30" stroke="#141414" stroke-width="0.9" />
<line x1="223.50" y1="607.40" x2="223.50" y2="642.70" stroke="#141414" stroke-width="1.0" />
<line x1="223.50" y1="651.70" x2="223.50" y2="722.60" stroke="#141414" stroke-width="1.0" />
<line x1="223.50" y1="729.80" x2="223.50" y2="765.70" stroke="#141414" stroke-width="1.0" />
<line x1="223.50" y1="772.20" x2="223.50" y2="794.50" stroke="#141414" stroke-width="1.0" />
<line x1="78.40" y1="693.20" x2="90.90" y2="693.20" stroke="#141414" stroke-width="1.0" />
<line x1="99.20" y1="693.20" x2="131.60" y2="693.20" stroke="#141414" stroke-width="1.0" />
<line x1="138.90" y1="693.20" x2="146.90" y2="693.20" stroke="#141414" stroke-width="1.0" />
<line x1="155.20" y1="693.20" x2="195.20" y2="693.20" stroke="#141414" stroke-width="1.0" />
<line x1="203.00" y1="693.20" x2="210.20" y2="693.20" stroke="#141414" stroke-width="1.0" />
<line x1="219.40" y1="693.20" x2="259.90" y2="693.20" stroke="#141414" stroke-width="1.0" />
<line x1="266.40" y1="693.20" x2="278.50" y2="693.20" stroke="#141414" stroke-width="1.0" />
<line x1="284.00" y1="693.20" x2="325.80" y2="693.20" stroke="#141414" stroke-width="1.0" />
<line x1="331.00" y1="693.20" x2="338.80" y2="693.20" stroke="#141414" stroke-width="1.0" />
<line x1="346.50" y1="693.20" x2="378.00" y2="693.20" stroke="#141414" stroke-width="1.0" />
<line x1="142.50" y1="536.30" x2="142.50" y2="634.00" stroke="#141414" stroke-width="1.0" />
<line x1="304.30" y1="536.30" x2="304.30" y2="634.00" stroke="#141414" stroke-width="1.0" />
<line x1="169.40" y1="564.50" x2="169.40" y2="663.00" stroke="#141414" stroke-width="0.9" />
<line x1="276.60" y1="564.50" x2="276.60" y2="663.00" stroke="#141414" stroke-width="0.9" />
<line x1="169.40" y1="724.00" x2="169.40" y2="748.00" stroke="#141414" stroke-width="0.9" />
<line x1="276.60" y1="724.00" x2="276.60" y2="748.00" stroke="#141414" stroke-width="0.9" />
<line x1="198.40" y1="595.00" x2="198.40" y2="666.00" stroke="#141414" stroke-width="0.9" />
<line x1="198.40" y1="672.60" x2="198.40" y2="709.20" stroke="#141414" stroke-width="0.9" />
<line x1="198.40" y1="718.30" x2="198.40" y2="731.60" stroke="#141414" stroke-width="0.9" />
<line x1="198.40" y1="739.40" x2="198.40" y2="794.50" stroke="#141414" stroke-width="0.9" />
<line x1="248.10" y1="595.00" x2="248.10" y2="665.50" stroke="#141414" stroke-width="0.9" />
<line x1="248.10" y1="673.30" x2="248.10" y2="713.10" stroke="#141414" stroke-width="0.9" />
<line x1="142.50" y1="539.50" x2="304.30" y2="539.50" stroke="#141414" stroke-width="1.0" />
<polygon points="142.50,539.50 153.90,537.60 153.90,541.40" fill="#141414"/>
<polygon points="304.30,539.50 292.90,537.60 292.90,541.40" fill="#141414"/>
<line x1="169.40" y1="567.60" x2="276.60" y2="567.60" stroke="#141414" stroke-width="1.0" />
<polygon points="169.40,567.60 180.80,565.70 180.80,569.50" fill="#141414"/>
<polygon points="276.60,567.60 265.20,565.70 265.20,569.50" fill="#141414"/>
<line x1="198.40" y1="598.20" x2="247.90" y2="598.20" stroke="#141414" stroke-width="1.0" />
<polygon points="198.40,598.20 209.80,596.30 209.80,600.10" fill="#141414"/>
<polygon points="247.90,598.20 236.50,596.30 236.50,600.10" fill="#141414"/>
<text x="209.70" y="536.80" font-size="13.5" text-anchor="start" fill="#1c1c1c" stroke="#1c1c1c" stroke-width="0.25" textLength="26.6" lengthAdjust="spacingAndGlyphs">64.6</text>
<text x="209.70" y="565.10" font-size="13.5" text-anchor="start" fill="#1c1c1c" stroke="#1c1c1c" stroke-width="0.25" textLength="26.6" lengthAdjust="spacingAndGlyphs">42.8</text>
<text x="210.70" y="595.20" font-size="13.5" text-anchor="start" fill="#1c1c1c" stroke="#1c1c1c" stroke-width="0.25" textLength="25.8" lengthAdjust="spacingAndGlyphs">19.8</text>
<line x1="250.70" y1="668.20" x2="427.10" y2="668.20" stroke="#141414" stroke-width="0.9" />
<line x1="250.70" y1="718.40" x2="427.10" y2="718.40" stroke="#141414" stroke-width="0.9" />
<line x1="253.30" y1="684.20" x2="393.10" y2="684.20" stroke="#141414" stroke-width="0.9" />
<line x1="253.30" y1="702.70" x2="393.10" y2="702.70" stroke="#141414" stroke-width="0.9" />
<line x1="424.00" y1="643.30" x2="424.00" y2="743.10" stroke="#141414" stroke-width="1.0" />
<polygon points="424.00,668.20 422.10,656.80 425.90,656.80" fill="#141414"/>
<polygon points="424.00,718.40 422.10,729.80 425.90,729.80" fill="#141414"/>
<line x1="390.80" y1="659.00" x2="390.80" y2="762.40" stroke="#141414" stroke-width="1.0" />
<polygon points="390.80,684.00 388.90,672.60 392.70,672.60" fill="#141414"/>
<polygon points="390.80,702.80 388.90,714.20 392.70,714.20" fill="#141414"/>
<text x="420.90" y="706.00" font-size="13.5" text-anchor="start" fill="#1c1c1c" stroke="#1c1c1c" stroke-width="0.25" textLength="25.2" lengthAdjust="spacingAndGlyphs" transform="rotate(-90 420.90 706.00)">19.8</text>
<text x="387.70" y="759.20" font-size="13.5" text-anchor="start" fill="#1c1c1c" stroke="#1c1c1c" stroke-width="0.25" textLength="28.3" lengthAdjust="spacingAndGlyphs" transform="rotate(-90 387.70 759.20)">Ø7.5</text>
<line x1="49.50" y1="650.80" x2="112.00" y2="650.80" stroke="#141414" stroke-width="0.9" />
<line x1="49.50" y1="736.30" x2="157.00" y2="736.30" stroke="#141414" stroke-width="0.9" />
<line x1="52.70" y1="650.80" x2="52.70" y2="736.30" stroke="#141414" stroke-width="1.0" />
<polygon points="52.70,650.80 50.80,662.20 54.60,662.20" fill="#141414"/>
<polygon points="52.70,736.30 50.80,724.90 54.60,724.90" fill="#141414"/>
<text x="50.30" y="705.50" font-size="13.5" text-anchor="start" fill="#1c1c1c" stroke="#1c1c1c" stroke-width="0.25" textLength="24.9" lengthAdjust="spacingAndGlyphs" transform="rotate(-90 50.30 705.50)">34.1</text>
<line x1="80.80" y1="668.20" x2="80.80" y2="782.60" stroke="#141414" stroke-width="1.0" />
<polygon points="80.80,693.20 78.90,681.80 82.70,681.80" fill="#141414"/>
<polygon points="80.80,725.50 78.90,736.90 82.70,736.90" fill="#141414"/>
<line x1="78.20" y1="725.40" x2="183.50" y2="725.40" stroke="#141414" stroke-width="0.9" />
<text x="78.20" y="778.60" font-size="13.5" text-anchor="start" fill="#1c1c1c" stroke="#1c1c1c" stroke-width="0.25" textLength="24.5" lengthAdjust="spacingAndGlyphs" transform="rotate(-90 78.20 778.60)">12.7</text>
<line x1="150.60" y1="791.90" x2="248.30" y2="791.90" stroke="#141414" stroke-width="1.0" />
<polygon points="198.40,791.90 187.00,790.00 187.00,793.80" fill="#141414"/>
<polygon points="223.50,791.90 234.90,790.00 234.90,793.80" fill="#141414"/>
<text x="152.80" y="788.40" font-size="13.5" text-anchor="start" fill="#1c1c1c" stroke="#1c1c1c" stroke-width="0.25" textLength="18.3" lengthAdjust="spacingAndGlyphs">9.9</text>
<text x="199.70" y="655.50" font-size="13.2" text-anchor="start" fill="#1c1c1c" stroke="#1c1c1c" stroke-width="0.25">R</text>
<text x="261.40" y="682.20" font-size="13.2" text-anchor="start" fill="#1c1c1c" stroke="#1c1c1c" stroke-width="0.25">C2</text>
<text x="168.20" y="712.20" font-size="13.2" text-anchor="start" fill="#1c1c1c" stroke="#1c1c1c" stroke-width="0.25">C1</text>
<text x="235.00" y="739.00" font-size="13.2" text-anchor="start" fill="#1c1c1c" stroke="#1c1c1c" stroke-width="0.25">P</text>
<line x1="99.67" y1="592.16" x2="190.70" y2="683.10" stroke="#141414" stroke-width="1.0" />
<circle cx="93.30" cy="585.80" r="9.00" fill="none" stroke="#141414" stroke-width="1.0"/>
<text x="93.30" y="590.50" font-size="13.2" text-anchor="middle" fill="#1c1c1c" stroke="#1c1c1c" stroke-width="0.25">3</text>
<text x="465.10" y="564.20" font-size="13.85" text-anchor="start" fill="#1c1c1c" stroke="#1c1c1c" stroke-width="0.25">1. Suggested mounting bolts M5 x 60</text>
<text x="465.10" y="580.90" font-size="13.85" text-anchor="start" fill="#1c1c1c" stroke="#1c1c1c" stroke-width="0.25">long high tensile steel socket head cap</text>
<text x="465.10" y="597.60" font-size="13.85" text-anchor="start" fill="#1c1c1c" stroke="#1c1c1c" stroke-width="0.25">screws.</text>
<text x="465.10" y="631.00" font-size="13.85" text-anchor="start" fill="#1c1c1c" stroke="#1c1c1c" stroke-width="0.25">2. 4-way electrical connector mates</text>
<text x="465.10" y="647.70" font-size="13.85" text-anchor="start" fill="#1c1c1c" stroke="#1c1c1c" stroke-width="0.25">with MS3106-14S-2S or equivalent. Is</text>
<text x="465.10" y="664.40" font-size="13.85" text-anchor="start" fill="#1c1c1c" stroke="#1c1c1c" stroke-width="0.25">available at 180° to position shown</text>
<text x="465.10" y="681.10" font-size="13.85" text-anchor="start" fill="#1c1c1c" stroke="#1c1c1c" stroke-width="0.25">(advise desired position at time of</text>
<text x="465.10" y="697.80" font-size="13.85" text-anchor="start" fill="#1c1c1c" stroke="#1c1c1c" stroke-width="0.25">order).</text>
<text x="465.10" y="731.20" font-size="13.85" text-anchor="start" fill="#1c1c1c" stroke="#1c1c1c" stroke-width="0.25">3. Base O-Rings: 9.25 I/D x 1.78</text>
<text x="465.10" y="747.90" font-size="13.85" text-anchor="start" fill="#1c1c1c" stroke="#1c1c1c" stroke-width="0.25">section (4 pcs).</text>
<text x="465.10" y="781.30" font-size="13.85" text-anchor="start" fill="#1c1c1c" stroke="#1c1c1c" stroke-width="0.25">4. Null adjust requires 10 A/F ring</text>
<text x="465.10" y="798.00" font-size="13.85" text-anchor="start" fill="#1c1c1c" stroke="#1c1c1c" stroke-width="0.25">spanner and 2.5 hexagon key. Flow</text>
<text x="465.10" y="814.70" font-size="13.85" text-anchor="start" fill="#1c1c1c" stroke="#1c1c1c" stroke-width="0.25">out of C1 will increase with clockwise</text>
<text x="465.10" y="831.40" font-size="13.85" text-anchor="start" fill="#1c1c1c" stroke="#1c1c1c" stroke-width="0.25">rotation of key.</text>
<line x1="477.50" y1="1052.50" x2="701.00" y2="1052.50" stroke="#141414" stroke-width="1.3" />
<g stroke="#141414" stroke-width="0.95">
<line x1="478.20" y1="1063.8" x2="489.50" y2="1052.50"/>
<line x1="483.05" y1="1063.8" x2="494.35" y2="1052.50"/>
<line x1="487.90" y1="1063.8" x2="499.20" y2="1052.50"/>
<line x1="492.75" y1="1063.8" x2="504.05" y2="1052.50"/>
<line x1="497.60" y1="1063.8" x2="508.90" y2="1052.50"/>
<line x1="502.45" y1="1063.8" x2="513.75" y2="1052.50"/>
<line x1="507.30" y1="1063.8" x2="518.60" y2="1052.50"/>
<line x1="512.15" y1="1063.8" x2="523.45" y2="1052.50"/>
<line x1="517.00" y1="1063.8" x2="528.30" y2="1052.50"/>
<line x1="521.85" y1="1063.8" x2="533.15" y2="1052.50"/>
<line x1="526.70" y1="1063.8" x2="538.00" y2="1052.50"/>
<line x1="531.55" y1="1063.8" x2="542.85" y2="1052.50"/>
<line x1="536.40" y1="1063.8" x2="547.70" y2="1052.50"/>
<line x1="541.25" y1="1063.8" x2="552.55" y2="1052.50"/>
<line x1="546.10" y1="1063.8" x2="557.40" y2="1052.50"/>
<line x1="550.95" y1="1063.8" x2="562.25" y2="1052.50"/>
<line x1="555.80" y1="1063.8" x2="567.10" y2="1052.50"/>
<line x1="560.65" y1="1063.8" x2="571.95" y2="1052.50"/>
<line x1="565.50" y1="1063.8" x2="576.80" y2="1052.50"/>
<line x1="570.35" y1="1063.8" x2="581.65" y2="1052.50"/>
<line x1="575.20" y1="1063.8" x2="586.50" y2="1052.50"/>
<line x1="580.05" y1="1063.8" x2="591.35" y2="1052.50"/>
<line x1="584.90" y1="1063.8" x2="596.20" y2="1052.50"/>
<line x1="589.75" y1="1063.8" x2="601.05" y2="1052.50"/>
<line x1="594.60" y1="1063.8" x2="605.90" y2="1052.50"/>
<line x1="599.45" y1="1063.8" x2="610.75" y2="1052.50"/>
<line x1="604.30" y1="1063.8" x2="615.60" y2="1052.50"/>
<line x1="609.15" y1="1063.8" x2="620.45" y2="1052.50"/>
<line x1="614.00" y1="1063.8" x2="625.30" y2="1052.50"/>
<line x1="618.85" y1="1063.8" x2="630.15" y2="1052.50"/>
<line x1="623.70" y1="1063.8" x2="635.00" y2="1052.50"/>
<line x1="628.55" y1="1063.8" x2="639.85" y2="1052.50"/>
<line x1="633.40" y1="1063.8" x2="644.70" y2="1052.50"/>
<line x1="638.25" y1="1063.8" x2="649.55" y2="1052.50"/>
<line x1="643.10" y1="1063.8" x2="654.40" y2="1052.50"/>
<line x1="647.95" y1="1063.8" x2="659.25" y2="1052.50"/>
<line x1="652.80" y1="1063.8" x2="664.10" y2="1052.50"/>
<line x1="657.65" y1="1063.8" x2="668.95" y2="1052.50"/>
<line x1="662.50" y1="1063.8" x2="673.80" y2="1052.50"/>
<line x1="667.35" y1="1063.8" x2="678.65" y2="1052.50"/>
<line x1="672.20" y1="1063.8" x2="683.50" y2="1052.50"/>
<line x1="677.05" y1="1063.8" x2="688.35" y2="1052.50"/>
<line x1="681.90" y1="1063.8" x2="693.20" y2="1052.50"/>
<line x1="686.75" y1="1063.8" x2="698.05" y2="1052.50"/>
<line x1="691.60" y1="1063.8" x2="701.50" y2="1053.90"/>
<line x1="696.45" y1="1063.8" x2="701.50" y2="1058.75"/>
<line x1="701.30" y1="1063.8" x2="701.50" y2="1063.60"/>
</g>
<path d="M506.8,1034.9 L527.2,1034.9 M506.8,1034.9 L516.2,1052.5 L545.4,1003.6 L575.7,1003.6" fill="none" stroke="#141414" stroke-width="1.1" />
<text x="549.60" y="1017.40" font-size="13.5" text-anchor="start" fill="#1c1c1c" stroke="#1c1c1c" stroke-width="0.25" textLength="18.8" lengthAdjust="spacingAndGlyphs">0.8</text>
<path d="M622.3,1015.7 L602.4,1015.7 L602.4,1040" fill="none" stroke="#141414" stroke-width="1.1" />
<polygon points="602.4,1052.5 599.5,1036.3 605.3,1036.3" fill="#141414"/>
<rect x="622.30" y="1005.50" width="75.00" height="19.50" rx="0" fill="none" stroke="#141414" stroke-width="1.1"/>
<line x1="654.70" y1="1005.50" x2="654.70" y2="1025.00" stroke="#141414" stroke-width="1.1" />
<path d="M626.3,1021.2 L632.1,1009.8 L651.5,1009.8 L645.7,1021.2 Z" fill="none" stroke="#141414" stroke-width="1.1" />
<text x="662.00" y="1019.70" font-size="13.5" text-anchor="start" fill="#1c1c1c" stroke="#1c1c1c" stroke-width="0.25" textLength="26.5" lengthAdjust="spacingAndGlyphs">0.02</text>
<text x="484.20" y="1076.80" font-size="13.7" text-anchor="start" fill="#1c1c1c" stroke="#1c1c1c" stroke-width="0.25" textLength="210.2" lengthAdjust="spacingAndGlyphs">Surface to which valve is mounted</text>
</svg>
</body></html>
